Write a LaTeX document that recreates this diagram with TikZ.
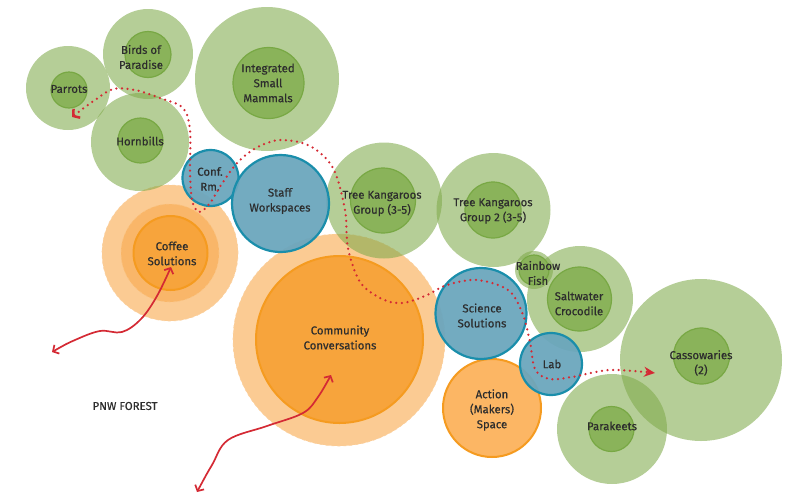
\documentclass[tikz,border=0pt]{standalone}
\usepackage{fontspec}
\setmainfont{Fira Sans}
\newfontfamily\lblfont{Fira Sans}[FakeBold=0.45]
\usetikzlibrary{arrows.meta}
\definecolor{gOut}{RGB}{128,170,75}
\definecolor{gIn}{RGB}{138,179,90}
\definecolor{gInD}{RGB}{120,168,68}
\definecolor{bFill}{RGB}{107,166,189}
\definecolor{bLine}{RGB}{26,142,171}
\definecolor{oIn}{RGB}{247,164,60}
\definecolor{oLine}{RGB}{245,155,32}
\definecolor{oMid}{RGB}{249,181,101}
\definecolor{oOut}{RGB}{250,190,120}
\definecolor{oAct}{RGB}{252,182,100}
\definecolor{rArr}{RGB}{212,42,52}
\definecolor{txt}{RGB}{45,45,45}
\begin{document}
\begin{tikzpicture}[x=1pt,y=-1pt,
  ring/.style={circle,inner sep=0pt,minimum size=#1},
  outerg/.style={ring=#1,fill=gOut,fill opacity=0.58,draw=none},
  innerg/.style={ring=#1,fill=gIn,draw=gInD,line width=1.2pt},
  blue/.style={ring=#1,fill=bFill,fill opacity=0.95,draw=bLine,line width=2.2pt},
  orangein/.style={ring=#1,fill=oIn,draw=oLine,line width=2pt},
  orangemid/.style={ring=#1,fill=oMid,fill opacity=0.9,draw=oMid!80!white,line width=0.6pt,dashed},
  orangeout/.style={ring=#1,fill=oOut,fill opacity=0.8,draw=oOut!70!white,line width=0.6pt,dashed},
  action/.style={ring=#1,fill=oAct,draw=oLine,line width=2pt},
  lbl/.style={text=txt,align=center,font=\lblfont\fontsize{11.4}{15}\selectfont,inner sep=0pt},
  redsolid/.style={draw=rArr,line width=1.7pt,{Straight Barb[length=4.5pt,width=10pt]}-{Straight Barb[length=4.5pt,width=10pt]}},
  reddot/.style={draw=rArr,line width=2.5pt,line cap=round,dash pattern=on 0pt off 5.6pt,{Straight Barb[length=4.5pt,width=11pt]}-{Stealth[length=11pt,width=10pt]}}
]
\useasboundingbox (0,0) rectangle (790,496);
% orange halos
\node[orangeout=136] (coffeeO) at (170,253) {};
\node[orangeout=212] (commO) at (339,340) {};
\node[orangemid=98] (coffeeM) at (170,253) {};
% green outer circles
\node[outerg=84] (parrotsO) at (68,88) {};
\node[outerg=90] (birdsO) at (148,54) {};
\node[outerg=144] (ismO) at (267,79) {};
\node[outerg=98] (hornO) at (140,142) {};
\node[outerg=116] (tk1O) at (384,200.5) {};
\node[outerg=114] (tk2O) at (493.5,210) {};
\node[outerg=38] (fishO) at (534,270) {};
\node[outerg=106] (crocO) at (580,299) {};
\node[outerg=162] (cassO) at (701,360) {};
\node[outerg=110] (parakO) at (612,429) {};
% inner green circles
\node[innerg=36] (parrotsI) at (69,90) {};
\node[innerg=46] (birdsI) at (148,54.5) {};
\node[innerg=71] (ismI) at (268.5,83) {};
\node[innerg=45] (hornI) at (140.5,140.5) {};
\node[innerg=65] (tk1I) at (383,200.5) {};
\node[innerg=56] (tk2I) at (493,210) {};
\node[innerg=30] (fishI) at (534,270) {};
\node[innerg=64] (crocI) at (579.5,299) {};
\node[innerg=56] (cassI) at (701.5,356) {};
\node[innerg=45] (parakI) at (611.5,429) {};
% orange cores
\node[orangein=74] (coffeeI) at (170.5,253) {};
\node[orangein=167] (commI) at (339.5,339.5) {};
\node[action=98] (actionC) at (492,408) {};
% blue rooms
\node[blue=56] (confC) at (210.5,178) {};
\node[blue=97] (staffC) at (280.5,203.5) {};
\node[blue=91] (sciC) at (481,313.5) {};
\node[blue=62] (labC) at (551,364) {};
% labels
\node[lbl] (parrotsT) at (69,89) {Parrots};
\node[lbl] (birdsT) at (141,57) {Birds of\\Paradise};
\node[lbl] (ismT) at (268,83) {Integrated\\Small\\Mammals};
\node[lbl] (hornT) at (140,141) {Hornbills};
\node[lbl] (confT) at (210,179) {Conf.\\Rm.};
\node[lbl] (staffT) at (280,201) {Staff\\Workspaces};
\node[lbl] (coffeeT) at (172,253.5) {Coffee\\Solutions};
\node[lbl] (commT) at (340,337.5) {Community\\Conversations};
\node[lbl] (tk1T) at (382,203.5) {Tree Kangaroos\\Group (3-5)};
\node[lbl] (tk2T) at (493,211) {Tree Kangaroos\\Group 2 (3-5)};
\node[lbl] (fishT) at (538,273) {Rainbow\\Fish};
\node[lbl] (crocT) at (579,303.5) {Saltwater\\Crocodile};
\node[lbl] (sciT) at (482,315.5) {Science\\Solutions};
\node[lbl] (labT) at (552,364) {Lab};
\node[lbl] (actionT) at (492,410) {Action\\(Makers)\\Space};
\node[lbl] (cassT) at (701,363) {Cassowaries\\(2)};
\node[lbl] (parakT) at (612,426) {Parakeets};
\node[lbl] (pnw) at (125,406) {PNW FOREST};
% arrow ends
\coordinate (dotA) at (72,117);
\coordinate (dotB) at (655,373);
\coordinate (cofA) at (52,352);
\coordinate (cofB) at (171,267);
\coordinate (comA) at (197,492);
\coordinate (comB) at (331,375);
% dotted route
\draw[reddot] plot[smooth,tension=0.55] coordinates {(dotA) (95,100) (113,89) (135,90) (160,98) (183,108) (190,130) (190,170) (192,200) (199,212) (210,203) (223,182) (238,162) (256,148) (280,140) (310,146) (333,168) (345,210) (348,248) (360,282) (382,299) (402,303) (425,296) (447,285) (477,280) (508,290) (522,312) (530,342) (535,369) (549,379) (572,377) (610,370) (dotB)};
% solid red arrows
\draw[redsolid] plot[smooth,tension=0.6] coordinates {(cofA) (75,340) (100,331) (122,332) (141,319) (157,296) (cofB)};
\draw[redsolid] plot[smooth,tension=0.6] coordinates {(comA) (212,465) (228,440) (267,426) (303,413) (318,397) (comB)};
\end{tikzpicture}
\end{document}
